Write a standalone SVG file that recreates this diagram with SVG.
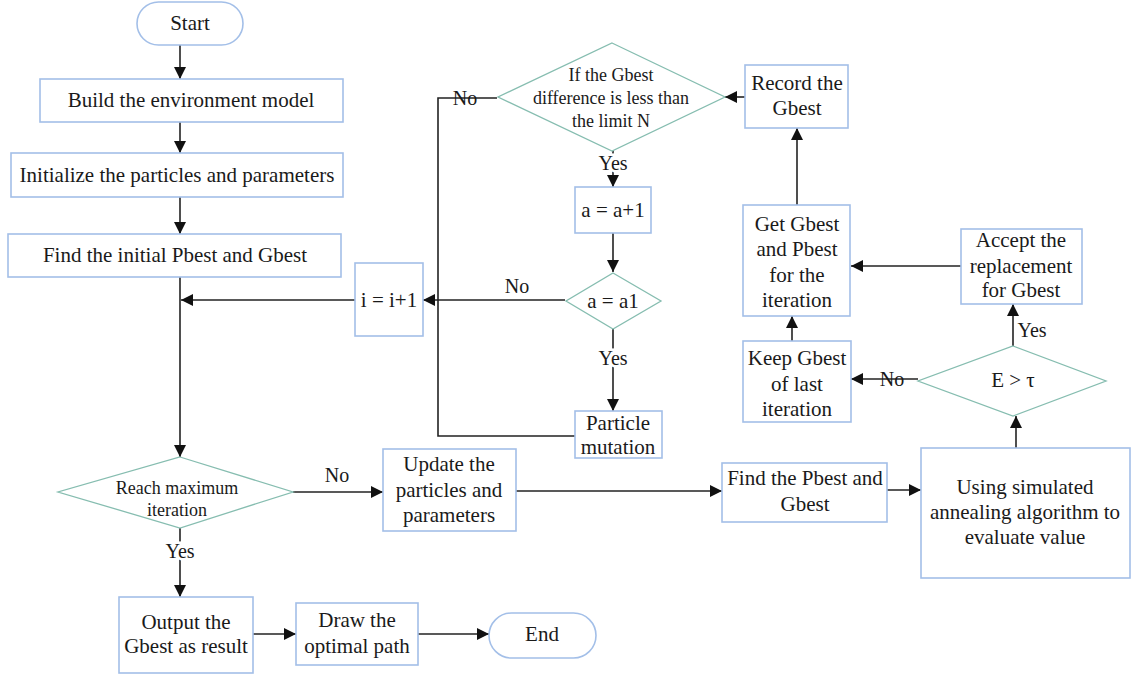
<svg xmlns="http://www.w3.org/2000/svg" width="1132" height="678" viewBox="0 0 1132 678">
<defs>
<marker id="ah" markerWidth="12" markerHeight="12" refX="12" refY="6" orient="auto" markerUnits="userSpaceOnUse"><path d="M0,0 L12,6 L0,12 z" fill="#111"/></marker>
<style>
.box{fill:#fff;stroke:#a3bfe8;stroke-width:1.6}
.dia{fill:#fff;stroke:#86bdb0;stroke-width:1.3}
.t{font-family:"Liberation Serif","Times New Roman",serif;font-size:21px;fill:#1a1a1a;text-anchor:middle;dominant-baseline:central}
.s{font-size:18px}
.lbl{font-family:"Liberation Serif","Times New Roman",serif;font-size:20px;fill:#1a1a1a;text-anchor:middle;dominant-baseline:central}
.bg{paint-order:stroke;stroke:#fff;stroke-width:5px}
.c{fill:none;stroke:#222;stroke-width:1.6}
.a{marker-end:url(#ah)}
</style>
</defs>
<rect width="1132" height="678" fill="#fff"/>
<g id="connectors">
<line class="c a" x1="180" y1="45" x2="180" y2="79"/>
<line class="c a" x1="180" y1="122" x2="180" y2="153"/>
<line class="c a" x1="180" y1="197" x2="180" y2="234"/>
<line class="c a" x1="180" y1="277" x2="180" y2="457"/>
<line class="c a" x1="355" y1="300" x2="181" y2="300"/>
<line class="c a" x1="565" y1="300" x2="423" y2="300"/>
<path class="c" d="M497,98 H438 V436 H575"/>
<line class="c a" x1="745" y1="97" x2="725" y2="97"/>
<line class="c a" x1="613" y1="151" x2="613" y2="187"/>
<line class="c a" x1="613" y1="233" x2="613" y2="272"/>
<line class="c a" x1="613" y1="329" x2="613" y2="411"/>
<line class="c a" x1="797" y1="205" x2="797" y2="128"/>
<line class="c a" x1="961" y1="266" x2="851" y2="266"/>
<line class="c a" x1="792" y1="341" x2="792" y2="316"/>
<line class="c a" x1="1013" y1="346" x2="1013" y2="304"/>
<line class="c a" x1="918" y1="379" x2="851" y2="379"/>
<line class="c a" x1="1016" y1="448" x2="1016" y2="416"/>
<line class="c a" x1="887" y1="490" x2="921" y2="490"/>
<line class="c a" x1="516" y1="491" x2="722" y2="491"/>
<line class="c a" x1="293" y1="492" x2="383" y2="492"/>
<line class="c a" x1="180" y1="528" x2="180" y2="597"/>
<line class="c a" x1="253" y1="634" x2="296" y2="634"/>
<line class="c a" x1="418" y1="634" x2="489" y2="634"/>
<text class="lbl" x="465" y="98">No</text>
<text class="lbl bg" x="613" y="163">Yes</text>
<text class="lbl" x="517" y="286">No</text>
<text class="lbl bg" x="613" y="358">Yes</text>
<text class="lbl" x="1032" y="330">Yes</text>
<text class="lbl" x="892" y="379">No</text>
<text class="lbl" x="337" y="475">No</text>
<text class="lbl bg" x="180" y="551">Yes</text>
</g>
<g id="start"><rect class="box" x="137" y="2" width="106" height="43" rx="21.5"/><text class="t" x="190" y="23">Start</text></g>
<g id="build"><rect class="box" x="40" y="79" width="303" height="43"/><text class="t" x="191" y="100">Build the environment model</text></g>
<g id="init"><rect class="box" x="11" y="153" width="332" height="44"/><text class="t" x="177" y="175">Initialize the particles and parameters</text></g>
<g id="findinit"><rect class="box" x="8" y="234" width="333" height="43"/><text class="t" x="175" y="255">Find the initial Pbest and Gbest</text></g>
<g id="iinc"><rect class="box" x="355" y="263" width="68" height="73"/><text class="t" x="389" y="300">i = i+1</text></g>
<g id="gbestdiff"><polygon class="dia" points="612,43 725,97 612,151 498,97"/><text class="t s" x="611" y="75">If the Gbest</text><text class="t s" x="611" y="98">difference is less than</text><text class="t s" x="611" y="121">the limit N</text></g>
<g id="ainc"><rect class="box" x="575" y="187" width="76" height="46"/><text class="t" x="613" y="210">a = a+1</text></g>
<g id="aeq"><polygon class="dia" points="613,273 661,301 613,329 566,301"/><text class="t" x="613" y="301">a = a1</text></g>
<g id="mutation"><rect class="box" x="575" y="411" width="87" height="47"/><text class="t" x="618" y="423">Particle</text><text class="t" x="618" y="447">mutation</text></g>
<g id="record"><rect class="box" x="745" y="65" width="103" height="63"/><text class="t" x="797" y="83">Record the</text><text class="t" x="797" y="108">Gbest</text></g>
<g id="getgbest"><rect class="box" x="743" y="205" width="107" height="111"/><text class="t" x="797" y="224">Get Gbest</text><text class="t" x="797" y="249">and Pbest</text><text class="t" x="797" y="275">for the</text><text class="t" x="797" y="300">iteration</text></g>
<g id="accept"><rect class="box" x="961" y="229" width="121" height="75"/><text class="t" x="1021" y="240">Accept the</text><text class="t" x="1021" y="266">replacement</text><text class="t" x="1021" y="290">for Gbest</text></g>
<g id="keep"><rect class="box" x="743" y="341" width="108" height="81"/><text class="t" x="797" y="358">Keep Gbest</text><text class="t" x="797" y="384">of last</text><text class="t" x="797" y="409">iteration</text></g>
<g id="etau"><polygon class="dia" points="1013,346 1106,381 1013,416 918,381"/><text class="t" x="1013" y="380">E &gt; τ</text></g>
<g id="findpg"><rect class="box" x="722" y="463" width="165" height="59"/><text class="t" x="805" y="478">Find the Pbest and</text><text class="t" x="805" y="504">Gbest</text></g>
<g id="sa"><rect class="box" x="921" y="448" width="209" height="130"/><text class="t" x="1025" y="487">Using simulated</text><text class="t" x="1025" y="512">annealing algorithm to</text><text class="t" x="1025" y="537">evaluate value</text></g>
<g id="update"><rect class="box" x="383" y="449" width="133" height="82"/><text class="t" x="449" y="464">Update the</text><text class="t" x="449" y="490">particles and</text><text class="t" x="449" y="515">parameters</text></g>
<g id="reach"><polygon class="dia" points="180,457 293,492 180,528 58,492"/><text class="t s" x="177" y="488">Reach maximum</text><text class="t s" x="177" y="510">iteration</text></g>
<g id="output"><rect class="box" x="119" y="597" width="134" height="76"/><text class="t" x="186" y="622">Output the</text><text class="t" x="186" y="646">Gbest as result</text></g>
<g id="draw"><rect class="box" x="296" y="603" width="122" height="62"/><text class="t" x="357" y="620">Draw the</text><text class="t" x="357" y="646">optimal path</text></g>
<g id="end"><rect class="box" x="489" y="613" width="107" height="45" rx="22.5"/><text class="t" x="542" y="634">End</text></g>
</svg>
